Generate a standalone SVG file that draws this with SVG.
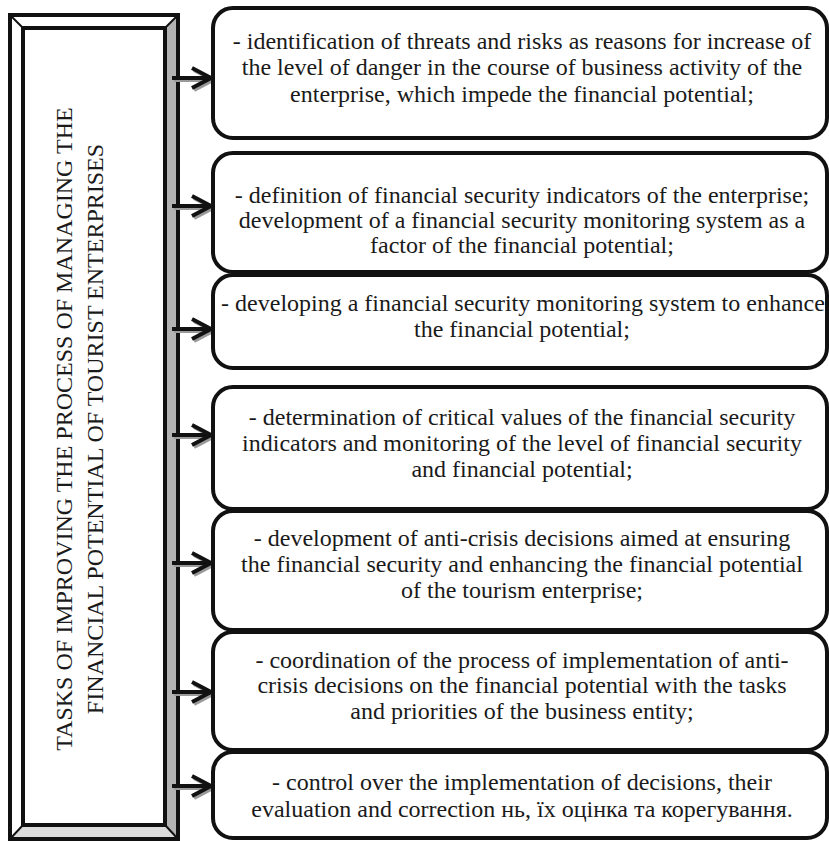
<svg xmlns="http://www.w3.org/2000/svg" width="829" height="841" viewBox="0 0 829 841">
  <defs>
    <style>
      .box { fill: #ffffff; stroke: #111111; stroke-width: 4; }
      .txt { font-family: "Liberation Serif", "Times New Roman", serif; font-size: 24px; fill: #1a1a1a; text-anchor: middle; }
      .vtxt { font-family: "Liberation Serif", "Times New Roman", serif; font-size: 24px; fill: #1a1a1a; text-anchor: middle; }
      .frame { stroke: #111111; stroke-width: 4; }
      .edge { stroke: #111111; stroke-width: 2; }
      .arr { fill: none; stroke: #111111; stroke-width: 4; stroke-linejoin: miter; }
      .arr-shadow { fill: none; stroke: #9a9a9a; stroke-width: 4; stroke-linejoin: miter; }
    </style>
    <g id="arrowShape">
      <path d="M172,0 H210 M192,-10 L211,0 L192,10"/>
    </g>
  </defs>

  <rect width="829" height="841" fill="#ffffff"/>

  <!-- bevelled title panel -->
  <g id="title-panel">
    <polygon points="10,15 178,15 165,28 23,28" fill="#ffffff"/>
    <polygon points="10,15 23,28 23,825 10,839" fill="#ffffff"/>
    <polygon points="178,15 178,839 165,825 165,28" fill="#b3b3b3"/>
    <polygon points="10,839 23,825 165,825 178,839" fill="#dcdcdc"/>
    <line class="edge" x1="10" y1="15" x2="23" y2="28"/>
    <line class="edge" x1="178" y1="15" x2="165" y2="28"/>
    <line class="edge" x1="10" y1="839" x2="23" y2="825"/>
    <line class="edge" x1="178" y1="839" x2="165" y2="825"/>
    <rect class="frame" x="10" y="15" width="168" height="824" fill="none"/>
    <rect class="frame" x="23" y="28" width="142" height="797" fill="#ffffff"/>
    <text class="vtxt" transform="translate(72,429) rotate(-90)">TASKS OF IMPROVING THE PROCESS OF MANAGING THE</text>
    <text class="vtxt" transform="translate(103,429) rotate(-90)">FINANCIAL POTENTIAL OF TOURIST ENTERPRISES</text>
  </g>

  <!-- connectors from the panel to each task -->
  <g id="connectors">
    <use href="#arrowShape" class="arr-shadow" transform="translate(2,80)"/>
    <use href="#arrowShape" class="arr" transform="translate(0,78)"/>
    <use href="#arrowShape" class="arr-shadow" transform="translate(2,208)"/>
    <use href="#arrowShape" class="arr" transform="translate(0,206)"/>
    <use href="#arrowShape" class="arr-shadow" transform="translate(2,331)"/>
    <use href="#arrowShape" class="arr" transform="translate(0,329)"/>
    <use href="#arrowShape" class="arr-shadow" transform="translate(2,437)"/>
    <use href="#arrowShape" class="arr" transform="translate(0,435)"/>
    <use href="#arrowShape" class="arr-shadow" transform="translate(2,565)"/>
    <use href="#arrowShape" class="arr" transform="translate(0,563)"/>
    <use href="#arrowShape" class="arr-shadow" transform="translate(2,694)"/>
    <use href="#arrowShape" class="arr" transform="translate(0,692)"/>
    <use href="#arrowShape" class="arr-shadow" transform="translate(2,788)"/>
    <use href="#arrowShape" class="arr" transform="translate(0,786)"/>
  </g>

  <g id="task-1" font-family="Liberation Serif, serif">
    <rect class="box" x="213" y="8" width="614" height="130" rx="20"/>
    <text class="txt" x="522" y="49">- identification of threats and risks as reasons for increase of</text>
    <text class="txt" x="522" y="75">the level of danger in the course of business activity of the</text>
    <text class="txt" x="522" y="102">enterprise, which impede the financial potential;</text>
  </g>

  <g id="task-2" font-family="Liberation Serif, serif">
    <rect class="box" x="213" y="153" width="614" height="119" rx="20"/>
    <text class="txt" x="522" y="203">- definition of financial security indicators of the enterprise;</text>
    <text class="txt" x="522" y="228">development of a financial security monitoring system as a</text>
    <text class="txt" x="522" y="253">factor of the financial potential;</text>
  </g>

  <g id="task-3" font-family="Liberation Serif, serif">
    <rect class="box" x="213" y="275" width="614" height="93" rx="20"/>
    <text class="txt" x="523" y="311">- developing a financial security monitoring system to enhance</text>
    <text class="txt" x="522" y="337">the financial potential;</text>
  </g>

  <g id="task-4" font-family="Liberation Serif, serif">
    <rect class="box" x="213" y="387" width="614" height="122" rx="20"/>
    <text class="txt" x="522" y="425">- determination of critical values of the financial security</text>
    <text class="txt" x="522" y="451">indicators and monitoring of the level of financial security</text>
    <text class="txt" x="522" y="477">and financial potential;</text>
  </g>

  <g id="task-5" font-family="Liberation Serif, serif">
    <rect class="box" x="213" y="511" width="614" height="119" rx="20"/>
    <text class="txt" x="522" y="546">- development of anti-crisis decisions aimed at ensuring</text>
    <text class="txt" x="522" y="572">the financial security and enhancing the financial potential</text>
    <text class="txt" x="522" y="598">of the tourism enterprise;</text>
  </g>

  <g id="task-6" font-family="Liberation Serif, serif">
    <rect class="box" x="213" y="632" width="614" height="118" rx="20"/>
    <text class="txt" x="522" y="668">- coordination of the process of implementation of anti-</text>
    <text class="txt" x="522" y="693">crisis decisions on the financial potential with the tasks</text>
    <text class="txt" x="522" y="719">and priorities of the business entity;</text>
  </g>

  <g id="task-7" font-family="Liberation Serif, serif">
    <rect class="box" x="213" y="752" width="614" height="86" rx="20"/>
    <text class="txt" x="522" y="790">- control over the implementation of decisions, their</text>
    <text class="txt" x="522" y="817">evaluation and correction нь, їх оцінка та корегування.</text>
  </g>
</svg>
